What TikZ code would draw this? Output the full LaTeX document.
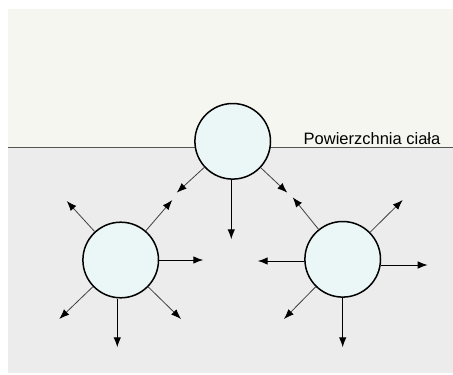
\documentclass[tikz,border=0pt]{standalone}
\usepackage{fontspec}
\setmainfont{Liberation Sans}
\usetikzlibrary{arrows.meta}
\definecolor{airbg}{HTML}{F6F6F1}
\definecolor{tissuebg}{HTML}{ECECEC}
\definecolor{cellfill}{HTML}{EBF7F7}
\definecolor{surfline}{HTML}{555555}
\tikzset{
  cell/.style={circle, draw=black, line width=1.5pt, fill=cellfill,
               minimum size=75.6pt, inner sep=0pt},
  ray/.style={line width=1pt, draw=black,
              -{Latex[length=10pt,width=7.5pt]}},
  diag/.style={line width=0.8pt, draw=black!75,
               -{Latex[length=10pt,width=7.5pt,fill=black,color=black]}},
  label/.style={font=\fontsize{16.5pt}{18pt}\selectfont, inner sep=0pt, anchor=base west}
}
\begin{document}
\begin{tikzpicture}[x=1pt, y=-1pt]
  \useasboundingbox (0,0) rectangle (453,375);
  % backgrounds: air above, tissue below the surface
  \fill[white] (0,0) rectangle (453,375);
  \fill[airbg] (8,8.5) rectangle (453,147.7);
  \fill[tissuebg] (8,147.7) rectangle (453,373);
  % body surface
  \draw[surfline, line width=1.3pt] (8,147.7) -- (453,147.7);
  \node[label] (txt) at (303.5,144) {Powierzchnia ciała};

  % cells
  \node[cell] (T) at (232.7,141.3) {};
  \node[cell] (L) at (120.7,260) {};
  \node[cell] (R) at (342.7,259.3) {};

  % end points of the rays
  \coordinate (Tdl) at (176.7,192.7);
  \coordinate (Tdr) at (287.3,192.7);
  \coordinate (Td)  at (231.3,239.3);

  \coordinate (Lul) at (66.7,201);
  \coordinate (Lur) at (172.3,200);
  \coordinate (Lr)  at (203.3,260);
  \coordinate (Ldl) at (59.3,319);
  \coordinate (Ld)  at (117.3,347.3);
  \coordinate (Ldr) at (181,319);

  \coordinate (Rul) at (292.7,197.3);
  \coordinate (Rur) at (402.7,200);
  \coordinate (Rl)  at (257.7,261);
  \coordinate (Rr)  at (427.7,265);
  \coordinate (Rdl) at (284,319);
  \coordinate (Rd)  at (342.7,347.3);

  % rays from the top cell
  \draw[diag] (T) -- (Tdl);
  \draw[diag] (T) -- (Tdr);
  \draw[ray] (T.south -| Td) -- (Td);

  % rays from the left cell
  \draw[diag] (L) -- (Lul);
  \draw[diag] (L) -- (Lur);
  \draw[ray] (L.east |- Lr) -- (Lr);
  \draw[diag] (L) -- (Ldl);
  \draw[ray] (L.south -| Ld) -- (Ld);
  \draw[diag] (L) -- (Ldr);

  % rays from the right cell
  \draw[diag] (R) -- (Rul);
  \draw[diag] (R) -- (Rur);
  \draw[ray] (R.west |- Rl) -- (Rl);
  \draw[ray] (R.east |- Rr) -- (Rr);
  \draw[diag] (R) -- (Rdl);
  \draw[ray] (R.south -| Rd) -- (Rd);
\end{tikzpicture}
\end{document}
